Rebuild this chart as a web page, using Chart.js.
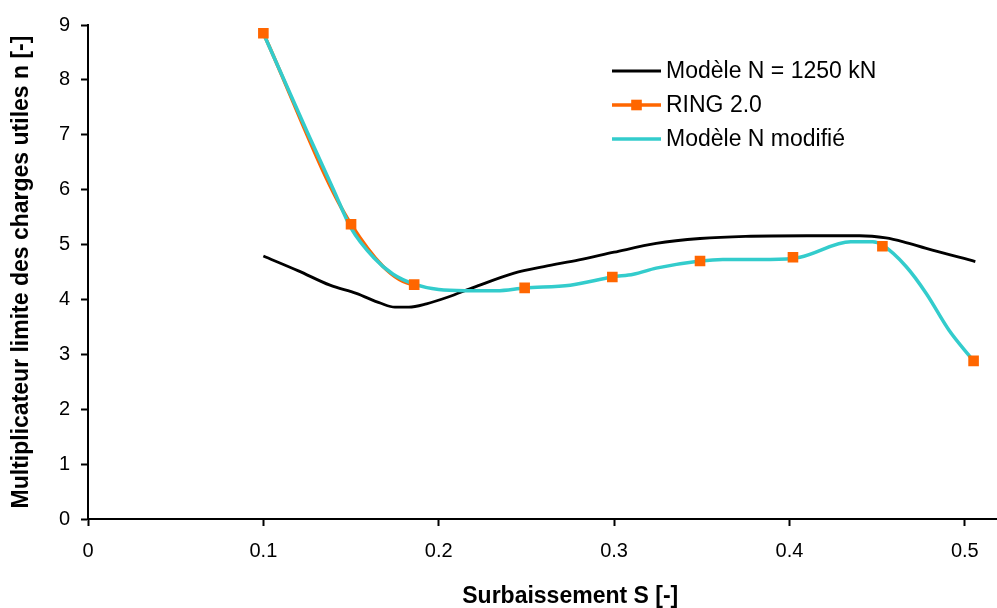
<!DOCTYPE html>
<html>
<head>
<meta charset="utf-8">
<script src="https://cdn.jsdelivr.net/npm/chart.js@4/dist/chart.umd.min.js"></script>
<style>
  html, body { margin: 0; padding: 0; background: #fff; overflow: hidden; }
  #wrap { width: 997px; height: 608px; overflow: hidden; position: relative; }
  canvas { display: block; }
</style>
</head>
<body>
<div id="wrap"><canvas id="c" width="1060" height="608"></canvas></div>
<script>
// Surbaissement S [-] and load multiplier n [-] for each curve
const sModele = [0.100, 0.120, 0.138, 0.153, 0.167, 0.175, 0.183, 0.193, 0.205, 0.220, 0.243, 0.260, 0.280, 0.300, 0.324, 0.349, 0.375, 0.410, 0.440, 0.455, 0.465, 0.478, 0.506];
const nModele = [4.79, 4.52, 4.26, 4.11, 3.93, 3.86, 3.86, 3.92, 4.04, 4.22, 4.48, 4.60, 4.72, 4.86, 5.02, 5.11, 5.15, 5.16, 5.16, 5.12, 5.05, 4.93, 4.69];

const sRing = [0.100, 0.150, 0.186, 0.249, 0.299, 0.349, 0.402, 0.453, 0.505];
const nRing = [8.85, 5.37, 4.27, 4.21, 4.41, 4.70, 4.77, 4.97, 2.88];

const sModif = [0.100, 0.125, 0.140, 0.150, 0.163, 0.174, 0.186, 0.200, 0.215, 0.233, 0.249, 0.275, 0.299, 0.311, 0.324, 0.349, 0.362, 0.389, 0.406, 0.435, 0.4475, 0.453, 0.4665, 0.478, 0.491, 0.505];
const nModif = [8.85, 7.05, 6.00, 5.30, 4.76, 4.46, 4.28, 4.18, 4.16, 4.16, 4.21, 4.26, 4.41, 4.46, 4.57, 4.70, 4.73, 4.73, 4.77, 5.05, 5.05, 4.99, 4.60, 4.11, 3.44, 2.88];

const xTicks = [0, 0.1, 0.2, 0.3, 0.4, 0.5];
const yTicks = [0, 1, 2, 3, 4, 5, 6, 7, 8, 9];

const labels = ['Modèle N = 1250 kN', 'RING 2.0', 'Modèle N modifié'];

const FONT = "'Liberation Sans', Arial, sans-serif";
const toXY = (xs, ys) => xs.map((x, i) => ({ x: x, y: ys[i] }));

// Legend drawn inside the plot, built from the datasets' own styles
const insetLegend = {
  id: 'insetLegend',
  afterDatasetsDraw(chart, args, opts) {
    const ctx = chart.ctx;
    ctx.save();
    opts.rows.forEach((row, k) => {
      const ds = chart.data.datasets[row.line];
      const y = opts.top + k * opts.gap;
      ctx.strokeStyle = ds.borderColor;
      ctx.lineWidth = ds.borderWidth;
      ctx.beginPath();
      ctx.moveTo(opts.left, y);
      ctx.lineTo(opts.left + opts.lineLen, y);
      ctx.stroke();
      if (row.marker !== undefined) {
        const m = chart.data.datasets[row.marker];
        const side = m.pointRadius * Math.SQRT2;
        ctx.fillStyle = m.pointBackgroundColor;
        ctx.fillRect(opts.left + opts.lineLen / 2 - side / 2, y - side / 2, side, side);
      }
      ctx.fillStyle = '#000';
      ctx.font = opts.font;
      ctx.textBaseline = 'middle';
      ctx.textAlign = 'left';
      ctx.fillText(ds.label, opts.left + opts.lineLen + 5, y + 1);
    });
    ctx.restore();
  }
};

new Chart(document.getElementById('c'), {
  type: 'line',
  data: {
    datasets: [
      { // square markers of RING 2.0, drawn on top
        label: 'RING 2.0 points',
        data: toXY(sRing, nRing),
        showLine: false,
        pointStyle: 'rect',
        pointRadius: 7.5,
        pointBorderWidth: 0,
        pointBackgroundColor: '#FF6600',
        pointBorderColor: '#FF6600',
        borderColor: '#FF6600'
      },
      {
        label: labels[2],
        data: toXY(sModif, nModif),
        borderColor: '#33CCCC',
        borderWidth: 3.5,
        pointRadius: 0,
        cubicInterpolationMode: 'monotone'
      },
      {
        label: labels[1],
        data: toXY(sRing, nRing),
        borderColor: '#FF6600',
        borderWidth: 3.5,
        pointRadius: 0,
        cubicInterpolationMode: 'monotone',
        // beyond the third point the RING curve runs underneath the modified model
        segment: { borderColor: (c) => (c.p0DataIndex >= 2 ? 'rgba(0,0,0,0)' : undefined) }
      },
      {
        label: labels[0],
        data: toXY(sModele, nModele),
        borderColor: '#000000',
        borderWidth: 2.8,
        pointRadius: 0,
        cubicInterpolationMode: 'monotone'
      }
    ]
  },
  options: {
    responsive: false,
    animation: false,
    devicePixelRatio: 1,
    layout: { padding: { top: 25, right: 5, bottom: 0, left: 0 } },
    plugins: {
      legend: { display: false },
      tooltip: { enabled: false },
      insetLegend: {
        left: 612, lineLen: 49, top: 71, gap: 34,
        font: "23px " + FONT,
        rows: [{ line: 3 }, { line: 2, marker: 0 }, { line: 1 }]
      }
    },
    scales: {
      x: {
        type: 'linear',
        min: 0,
        max: 0.55,
        afterBuildTicks: (scale) => { scale.ticks = xTicks.map(v => ({ value: v })); },
        afterFit: (scale) => { scale.height = 89; },
        grid: { drawOnChartArea: false, drawTicks: true, tickLength: 7, tickWidth: 2, color: '#000' },
        border: { display: true, color: '#000', width: 2 },
        ticks: {
          color: '#000',
          font: { family: FONT, size: 20 },
          padding: 13,
          callback: (v) => String(+Number(v).toFixed(1))
        },
        title: {
          display: true,
          text: 'Surbaissement S [-]',
          color: '#000',
          font: { family: FONT, size: 23, weight: 'bold', lineHeight: 1 },
          padding: { top: 0, bottom: 0 }
        }
      },
      y: {
        min: 0,
        max: 9,
        afterBuildTicks: (scale) => { scale.ticks = yTicks.map(v => ({ value: v })); },
        afterFit: (scale) => { scale.width = 88; },
        grid: { drawOnChartArea: false, drawTicks: true, tickLength: 7, tickWidth: 2, color: '#000' },
        border: { display: true, color: '#000', width: 2 },
        ticks: {
          color: '#000',
          font: { family: FONT, size: 20 },
          padding: 11
        },
        title: {
          display: true,
          text: 'Multiplicateur limite des charges utiles n [-]',
          color: '#000',
          font: { family: FONT, size: 23, weight: 'bold', lineHeight: 1.2 },
          padding: { top: 8, bottom: 0 }
        }
      }
    }
  },
  plugins: [insetLegend]
});
</script>
</body>
</html>
